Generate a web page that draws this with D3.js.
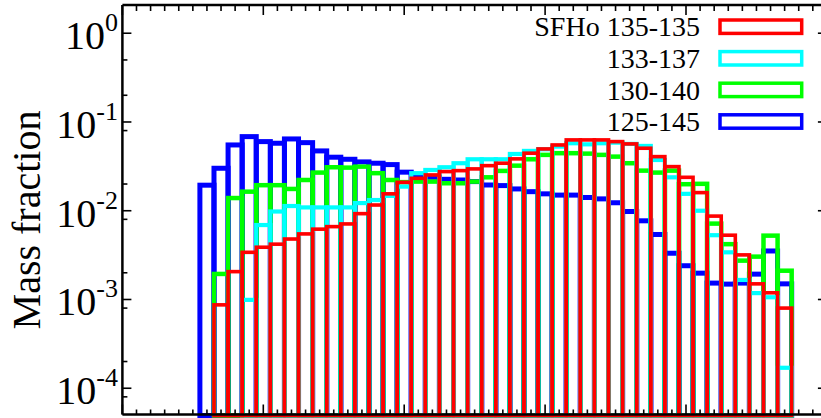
<!DOCTYPE html>
<html><head><meta charset="utf-8">
<script src="https://cdn.jsdelivr.net/npm/d3@7"></script>
<style>html,body{margin:0;padding:0;background:#fff;overflow:hidden}</style>
</head><body><svg id="c" width="821" height="418"></svg>
<script>
// Ye bin centres (bin width 0.01)
const yeBins = [0.06,0.07,0.08,0.09,0.10,0.11,0.12,0.13,0.14,0.15,0.16,0.17,0.18,0.19,0.20,0.21,0.22,0.23,0.24,0.25,0.26,0.27,0.28,0.29,0.30,0.31,0.32,0.33,0.34,0.35,0.36,0.37,0.38,0.39,0.40,0.41,0.42,0.43,0.44,0.45,0.46,0.47];
const binWidth = 0.01;

const m135_135 = [null,0.00087,0.00206,0.0034,0.00388,0.0042,0.0048,0.00548,0.0062,0.00662,0.0071,0.00927,0.0116,0.0155,0.0209,0.0232,0.0253,0.0276,0.0283,0.0296,0.0322,0.0343,0.0384,0.0445,0.0497,0.0551,0.0628,0.0628,0.0628,0.0601,0.0566,0.0506,0.0407,0.0314,0.0238,0.016,0.0087,0.0053,0.00318,0.0015,0.00119,0.0008];
const m133_137 = [null,null,null,0.00099,0.0069,0.0098,0.0113,0.0109,0.0109,0.0109,0.0109,0.0122,0.0132,0.0147,0.0187,0.0265,0.0288,0.0309,0.0343,0.038,0.038,0.038,0.0436,0.0472,0.0493,0.0528,0.0576,0.056,0.0576,0.0585,0.0566,0.0537,0.0373,0.0238,0.0155,0.01,0.0053,0.0034,0.00166,0.00118,0.00106,0.00017];
const m130_140 = [null,0.00194,0.0139,0.0164,0.0194,0.0194,0.0176,0.0222,0.0269,0.0309,0.0306,0.0314,0.0265,0.0222,0.021,0.0213,0.0213,0.0204,0.0204,0.0213,0.0238,0.0281,0.0322,0.038,0.0426,0.0445,0.0445,0.044,0.0426,0.0407,0.0343,0.0283,0.0269,0.0283,0.0199,0.0201,0.00716,0.0042,0.00274,0.00304,0.00524,0.00211];
const m125_145 = [0.0194,0.0301,0.0551,0.0684,0.0601,0.0576,0.0644,0.0585,0.0472,0.0401,0.038,0.0355,0.0343,0.0331,0.0272,0.025,0.0238,0.0226,0.0222,0.0213,0.0195,0.0192,0.0176,0.0164,0.0155,0.015,0.015,0.0141,0.0136,0.0123,0.0098,0.0077,0.0054,0.00332,0.0024,0.00198,0.00153,0.00149,0.00153,0.00193,0.00352,0.0015];

const legendLabels = ["SFHo 135-135","133-137","130-140","125-145"];
const legendColors = ["#ff0000","#00ffff","#00ff00","#0000ff"];
const legendData = [m135_135, m133_137, m130_140, m125_145];
const strokeWidths = [3.6, 4.2, 4.5, 5];

const yMajorTicks = [1,0.1,0.01,0.001,0.0001];
const yMajorExp = ["0","-1","-2","-3","-4"];
const yMinorTicks = [0.5,0.2,0.08,0.02,0.008,0.002,0.0008,0.0002,0.00008];
const xMajorTicks = [0,0.1,0.2,0.3,0.4,0.5];

const svg = d3.select("#c");
const x = d3.scaleLinear().domain([0,0.5]).range([122.4,826.9]);
const y = d3.scaleLog().domain([2.08,4.93e-5]).range([5,415.5]);
const yBase = 4.93e-5;

// bars: draw order blue, green, cyan, red
const order = [3,2,1,0];
order.forEach(si=>{
  const g = svg.append("g");
  const vals = legendData[si];
  const pts = yeBins.map((c,i)=>({c, v: vals[i]})).filter(d=>d.v!=null);
  g.selectAll("rect").data(pts).join("rect")
    .attr("x", d=>x(d.c-binWidth/2))
    .attr("width", d=>x(d.c+binWidth/2)-x(d.c-binWidth/2))
    .attr("y", d=>y(d.v))
    .attr("height", d=>y(yBase)-y(d.v))
    .attr("fill","none")
    .attr("stroke", legendColors[si])
    .attr("stroke-width", strokeWidths[si]);
});

// frame
const L = x(0), R = x(0.5), T = 5, B = 414.5;
const frame = svg.append("g").attr("stroke","#000").attr("stroke-width",2.5).attr("fill","none");
frame.append("line").attr("x1",L).attr("x2",L).attr("y1",T).attr("y2",B);
frame.append("line").attr("x1",L).attr("x2",R).attr("y1",T).attr("y2",T);
frame.append("line").attr("x1",L).attr("x2",R).attr("y1",B).attr("y2",B);
frame.append("line").attr("x1",R).attr("x2",R).attr("y1",T).attr("y2",B);

// x ticks (top and bottom)
const xMinor = x.ticks(50).filter(t=>!xMajorTicks.some(m=>Math.abs(m-t)<1e-9));
const tk = svg.append("g").attr("stroke","#000").attr("stroke-width",1.6);
xMinor.forEach(t=>{
  tk.append("line").attr("x1",x(t)).attr("x2",x(t)).attr("y1",B).attr("y2",B-5);
  tk.append("line").attr("x1",x(t)).attr("x2",x(t)).attr("y1",T).attr("y2",T+6);
});
xMajorTicks.forEach(t=>{
  tk.append("line").attr("x1",x(t)).attr("x2",x(t)).attr("y1",B).attr("y2",B-10);
  tk.append("line").attr("x1",x(t)).attr("x2",x(t)).attr("y1",T).attr("y2",T+10);
});
// y ticks
yMajorTicks.forEach(t=>{
  tk.append("line").attr("x1",L).attr("x2",L+9).attr("y1",y(t)).attr("y2",y(t));
  tk.append("line").attr("x1",R).attr("x2",R-9).attr("y1",y(t)).attr("y2",y(t));
});
yMinorTicks.forEach(t=>{
  tk.append("line").attr("x1",L).attr("x2",L+5).attr("y1",y(t)).attr("y2",y(t));
  tk.append("line").attr("x1",R).attr("x2",R-5).attr("y1",y(t)).attr("y2",y(t));
});

// y tick labels
const font = "'Liberation Serif','Times New Roman',serif";
yMajorTicks.forEach((t,i)=>{
  const tx = svg.append("text").attr("x",118).attr("y",y(t)+16)
    .attr("text-anchor","end").attr("font-family",font).attr("font-size",40).attr("fill","#000");
  tx.append("tspan").text("10");
  tx.append("tspan").attr("dy",-18).attr("font-size",26).text(yMajorExp[i]);
});

// y axis title
svg.append("text").attr("transform","translate(40,220) rotate(-90)")
  .attr("text-anchor","middle").attr("font-family",font).attr("font-size",40).attr("fill","#000")
  .text("Mass fraction");

// legend
legendLabels.forEach((lab,i)=>{
  const cy = 26.7 + i*31.6;
  svg.append("text").attr("x",700).attr("y",cy+9.6).attr("text-anchor","end")
    .attr("font-family",font).attr("font-size",28).attr("fill","#000").text(lab);
  svg.append("rect").attr("x",720).attr("y",cy-6.7).attr("width",81.7).attr("height",13.4)
    .attr("fill","none").attr("stroke",legendColors[i]).attr("stroke-width",3.5);
});
</script>
</body></html>
